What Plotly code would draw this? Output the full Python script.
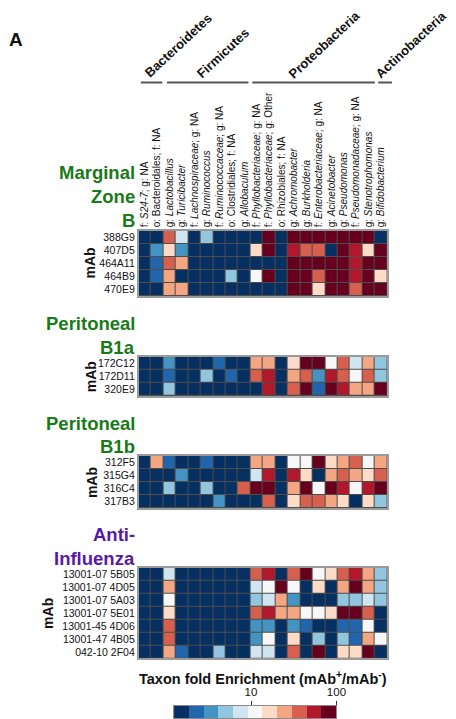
import numpy as np
import plotly.graph_objects as go

# ---------------- data ----------------
taxa = [
    "f: <i>S24-7</i>; g: NA",
    "o: Bacteroidales; f: NA",
    "g: <i>Lactobacillus</i>",
    "g: <i>Turicibacter</i>",
    "f: <i>Lachnospiraceae</i>; g: NA",
    "g: <i>Ruminococcus</i>",
    "f: <i>Ruminococcaceae</i>; g: NA",
    "o: Clostridiales; f: NA",
    "g: <i>Allobaculum</i>",
    "f: <i>Phyllobacteriaceae</i>; g: NA",
    "f: <i>Phyllobacteriaceae</i>; g: Other",
    "o: Rhizobiales; f: NA",
    "g: <i>Achromobacter</i>",
    "g: <i>Burkholderia</i>",
    "f: <i>Enterobacteriaceae</i>; g: NA",
    "g: <i>Acinetobacter</i>",
    "g: <i>Pseudomonas</i>",
    "f: <i>Pseudomonadaceae</i>; g: NA",
    "g: <i>Stenotrophomonas</i>",
    "g: <i>Bifidobacterium</i>",
]
phyla = ["Bacteroidetes", "Firmicutes", "Proteobacteria", "Actinobacteria"]

mzb_mabs = ["388G9", "407D5", "464A11", "464B9", "470E9"]
mzb_fold = [
    [1, 1, 37, 7.5, 1, 5, 1, 1, 1, 1, 100, 1, 100, 100, 100, 100, 100, 100, 100, 1],
    [1, 3.5, 17, 3.5, 1, 1, 1, 1, 1, 17, 100, 1, 55, 37, 37, 1, 100, 55, 17, 100],
    [1, 2, 37, 25, 1, 1, 1, 1, 1, 1, 1, 1, 100, 100, 100, 100, 100, 55, 100, 100],
    [1, 2, 25, 1, 1, 1, 1, 5, 1, 11, 100, 1, 100, 100, 37, 100, 100, 55, 100, 17],
    [1, 1, 25, 25, 1, 1, 1, 1, 1, 1, 1, 1, 100, 100, 17, 100, 100, 37, 100, 100],
]
b1a_mabs = ["172C12", "172D11", "320E9"]
b1a_fold = [
    [1, 1, 3.5, 1, 1, 1, 2, 1, 1, 25, 25, 1, 17, 100, 100, 11, 37, 7.5, 25, 5],
    [1, 1, 2, 1, 1, 5, 1, 2, 1, 37, 55, 1, 25, 37, 3.5, 55, 37, 11, 37, 5],
    [1, 1, 5, 1, 1, 1, 1, 1, 1, 1, 55, 1, 37, 100, 2, 100, 55, 25, 25, 100],
]
b1b_mabs = ["312F5", "315G4", "316C4", "317B3"]
b1b_fold = [
    [1, 25, 2, 1, 1, 2, 1, 1, 1, 25, 25, 1, 11, 11, 100, 17, 25, 37, 11, 25],
    [1, 1, 1, 3.5, 1, 1, 1, 1, 1, 7.5, 55, 1, 55, 17, 1, 25, 37, 25, 17, 37],
    [1, 1, 5, 1, 1, 5, 1, 1, 37, 100, 100, 1, 25, 100, 11, 100, 55, 11, 55, 100],
    [1, 1, 1, 1, 1, 1, 3.5, 1, 1, 1, 37, 1, 17, 37, 37, 25, 17, 1, 17, 5],
]
flu_mabs = ["13001-07 5B05", "13001-07 4D05", "13001-07 5A03", "13001-07 5E01",
            "13001-45 4D06", "13001-47 4B05", "042-10 2F04"]
flu_fold = [
    [1, 1, 7.5, 1, 1, 1, 1, 1, 1, 37, 55, 1, 37, 100, 11, 17, 37, 55, 25, 5],
    [1, 1, 25, 1, 1, 1, 1, 1, 1, 7.5, 11, 100, 11, 1, 17, 1, 25, 100, 25, 5],
    [1, 1, 11, 1, 1, 1, 1, 1, 1, 5, 7.5, 25, 3.5, 1, 1, 1, 5, 5, 7.5, 5],
    [1, 1, 17, 1, 1, 1, 1, 1, 1, 37, 55, 25, 25, 11, 11, 17, 100, 100, 37, 1],
    [1, 1, 37, 1, 1, 1, 1, 1, 1, 3.5, 3.5, 1, 3.5, 2, 1, 1, 2, 2, 11, 1],
    [1, 1, 37, 1, 1, 1, 1, 1, 1, 3.5, 11, 1, 17, 1, 5, 1, 5, 2, 25, 11],
    [1, 1, 25, 2, 1, 1, 5, 1, 1, 7.5, 7.5, 1, 37, 1, 100, 1, 17, 17, 100, 1],
]
cb_tick_values = [10, 100]

palette = ["#053061", "#2166ac", "#4393c3", "#92c5de", "#d1e5f0", "#f7f7f7",
           "#fddbc7", "#f4a582", "#d6604d", "#b2182b", "#67001f"]

# ---------------- helpers ----------------
W, H = 456, 719
FONT = "Liberation Sans, Arial, sans-serif"
def px(x):
    return x / W
def py(y):
    return 1 - y / H

ZMIN, ZMAX = 0.1, 2.0
n = len(palette)
colorscale = []
for i, c in enumerate(palette):
    colorscale.append([i / n, c])
    colorscale.append([(i + 1) / n, c])

blocks = [
    dict(mabs=mzb_mabs, fold=mzb_fold, top=231, bot=296,
         title=[("Marginal", 172), ("Zone", 196), ("B", 220)], color="#187a18", mab_x=91),
    dict(mabs=b1a_mabs, fold=b1a_fold, top=356.7, bot=396,
         title=[("Peritoneal", 323), ("B1a", 347)], color="#187a18", mab_x=93),
    dict(mabs=b1b_mabs, fold=b1b_fold, top=456, bot=508.3,
         title=[("Peritoneal", 423), ("B1b", 446.5)], color="#187a18", mab_x=94),
    dict(mabs=flu_mabs, fold=flu_fold, top=567.7, bot=658.3,
         title=[("Anti-", 534.5), ("Influenza", 558.5)], color="#5a18a6", mab_x=49),
]

X0, X1 = 141.7, 396.0
fig = go.Figure()
layout = {}
annotations = []
xi = list(range(len(taxa)))

for k, b in enumerate(blocks):
    sfx = "" if k == 0 else str(k + 1)
    z = np.log10(np.array(b["fold"], dtype=float))
    fig.add_trace(go.Heatmap(
        z=z, x=xi, y=list(range(len(b["mabs"]))),
        xaxis="x" + sfx, yaxis="y" + sfx,
        colorscale=colorscale, zmin=ZMIN, zmax=ZMAX, showscale=False,
        xgap=1, ygap=1, hoverinfo="skip",
    ))
    layout["xaxis" + sfx] = dict(
        domain=[px(X0), px(X1)], anchor="y" + sfx, range=[-0.5, len(taxa) - 0.5],
        showgrid=False, zeroline=False, ticks="",
        tickmode="array", tickvals=xi, ticktext=taxa,
        showticklabels=(k == 0), side="top", tickangle=-90,
        tickfont=dict(family=FONT, size=10, color="#111"),
        showline=True, mirror=True, linecolor="#9a9a9a", linewidth=1.5,
    )
    layout["yaxis" + sfx] = dict(
        domain=[py(b["bot"]), py(b["top"])], anchor="x" + sfx,
        range=[len(b["mabs"]) - 0.5, -0.5],
        showgrid=False, zeroline=False, ticks="",
        tickmode="array", tickvals=list(range(len(b["mabs"]))), ticktext=b["mabs"],
        tickfont=dict(family=FONT, size=10.5, color="#111"),
        showline=True, mirror=True, linecolor="#9a9a9a", linewidth=1.5,
    )
    for text, yc in b["title"]:
        annotations.append(dict(
            text="<b>" + text + "</b>", x=px(140.5), y=py(yc), xref="paper", yref="paper",
            xanchor="right", yanchor="middle", showarrow=False,
            font=dict(family=FONT, size=18.5, color=b["color"]),
        ))
    annotations.append(dict(
        text="<b>mAb</b>", x=px(b["mab_x"]), y=py((b["top"] + b["bot"]) / 2),
        xref="paper", yref="paper", xanchor="center", yanchor="middle",
        showarrow=False, textangle=-90, font=dict(family=FONT, size=14, color="#111"),
    ))

# ---------------- colour bar as its own heatmap ----------------
edges = np.linspace(ZMIN, ZMAX, n + 1)
centers = (edges[:-1] + edges[1:]) / 2
fig.add_trace(go.Heatmap(
    z=[centers], x=edges, y=[0, 1], xaxis="x5", yaxis="y5",
    colorscale=colorscale, zmin=ZMIN, zmax=ZMAX, showscale=False, hoverinfo="skip",
))
layout["xaxis5"] = dict(
    domain=[px(178), px(344)], anchor="y5", range=[ZMIN, ZMAX], side="top",
    showgrid=False, zeroline=False, ticks="outside", ticklen=4, tickcolor="#333",
    tickmode="array", tickvals=list(np.log10(cb_tick_values)),
    ticktext=[str(v) for v in cb_tick_values],
    tickfont=dict(family=FONT, size=11.5, color="#111"),
    showline=True, mirror=True, linecolor="#8a8a8a", linewidth=1,
)
layout["yaxis5"] = dict(
    domain=[py(718), py(706)], anchor="x5", range=[0, 1],
    showgrid=False, zeroline=False, showticklabels=False, ticks="",
    showline=True, mirror=True, linecolor="#8a8a8a", linewidth=1,
)
annotations.append(dict(
    text="<b>Taxon fold Enrichment (mAb<sup>+</sup>/mAb<sup>-</sup>)</b>",
    x=px(269), y=py(678), xref="paper", yref="paper", xanchor="center", yanchor="middle",
    showarrow=False, font=dict(family=FONT, size=14.5, color="#111"),
))

# ---------------- phylum headers ----------------
phylum_pos = [(182, 45), (228.5, 52.5), (331.5, 44), (420, 44)]
phylum_lines = [(144, 166), (170.7, 254), (258, 383.3), (386.7, 400.7)]
shapes = []
for name, (cx, cy), (l0, l1) in zip(phyla, phylum_pos, phylum_lines):
    annotations.append(dict(
        text="<b>" + name + "</b>", x=px(cx), y=py(cy), xref="paper", yref="paper",
        xanchor="center", yanchor="middle", showarrow=False, textangle=-43,
        font=dict(family=FONT, size=13, color="#111"),
    ))
    shapes.append(dict(type="line", xref="paper", yref="paper",
                       x0=px(l0), x1=px(l1), y0=py(82.5), y1=py(82.5),
                       line=dict(color="#555555", width=2)))

annotations.append(dict(
    text="<b>A</b>", x=px(16.5), y=py(39.5), xref="paper", yref="paper",
    xanchor="center", yanchor="middle", showarrow=False,
    font=dict(family=FONT, size=19, color="#111"),
))

fig.update_layout(
    width=W, height=H, margin=dict(l=0, r=0, t=0, b=0),
    paper_bgcolor="white", plot_bgcolor="#4d4d4d",
    annotations=annotations, shapes=shapes, showlegend=False,
    font=dict(family=FONT), **layout,
)
fig.write_html("out.html", config={"displayModeBar": False},
               post_script="document.body.style.margin='0px';")
